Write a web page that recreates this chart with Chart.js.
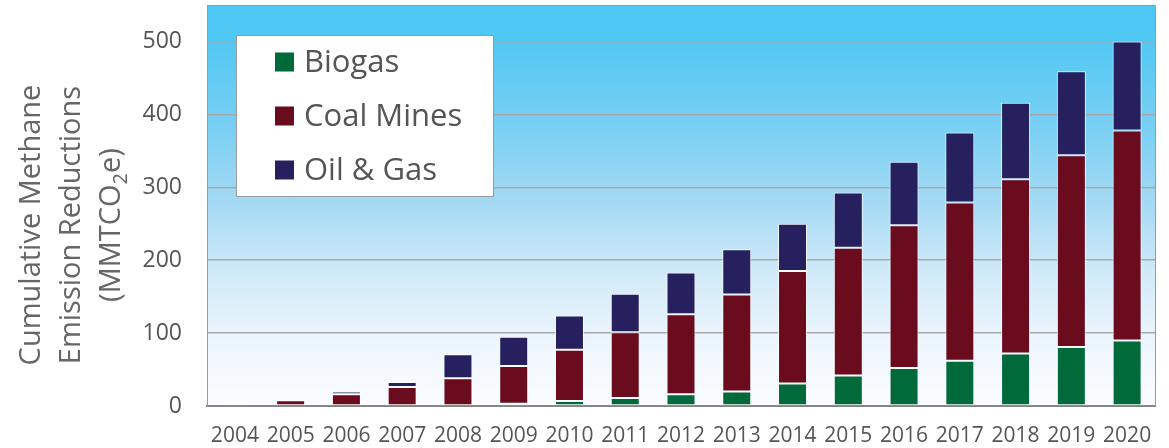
<!DOCTYPE html>
<html>
<head>
<meta charset="utf-8">
<script src="https://cdn.jsdelivr.net/npm/chart.js@4/dist/chart.umd.min.js"></script>
<style>
html,body{margin:0;padding:0;background:#fff;}
#c{display:block;}
</style>
</head>
<body>
<canvas id="c" width="1169" height="448"></canvas>
<script>
const years = ["2004","2005","2006","2007","2008","2009","2010","2011","2012","2013","2014","2015","2016","2017","2018","2019","2020"];
const biogas   = [0, 0, 0, 0, 0, 3, 7, 11, 16, 20, 31, 42, 52, 62, 72, 81, 90];
const coalMines= [0.6, 8, 16, 26, 38, 52, 70, 90, 110, 133, 154, 175, 196, 217, 239, 263, 288];
const oilGas   = [0, 0, 4, 7, 33, 40, 47, 53, 57, 62, 65, 76, 87, 96, 105, 115, 122];
const yTicks = [0, 100, 200, 300, 400, 500];
const yTitle = ["Cumulative Methane", "Emission Reductions", "(MMTCO", "2", "e)"];

const FONT = "'Open Sans', 'Noto Sans', sans-serif";

const bgPlugin = {
  id: 'bg',
  beforeDraw(chart) {
    const {ctx, chartArea: a} = chart;
    const g = ctx.createLinearGradient(0, a.top, 0, a.bottom);
    g.addColorStop(0, '#4ec8f4');
    g.addColorStop(0.08, '#50c8f4');
    g.addColorStop(0.3, '#78cff3');
    g.addColorStop(0.5, '#a7daf4');
    g.addColorStop(0.68, '#d3ebf9');
    g.addColorStop(0.85, '#eef6fd');
    g.addColorStop(1, '#fbfdff');
    ctx.save();
    ctx.fillStyle = g;
    ctx.fillRect(a.left, a.top, a.right - a.left, a.bottom - a.top);
    ctx.restore();
  },
  afterDraw(chart) {
    const {ctx, chartArea: a} = chart;
    ctx.save();
    ctx.strokeStyle = '#9a9a9a';
    ctx.lineWidth = 1;
    ctx.beginPath();
    ctx.moveTo(a.left, a.top + 0.5);
    ctx.lineTo(a.right + 0.5, a.top + 0.5);
    ctx.lineTo(a.right + 0.5, a.bottom);
    ctx.stroke();
    ctx.restore();
  }
};

const legendPlugin = {
  id: 'boxLegend',
  afterDatasetsDraw(chart) {
    const ctx = chart.ctx;
    ctx.save();
    ctx.fillStyle = '#ffffff';
    ctx.fillRect(236, 35, 257, 161);
    ctx.strokeStyle = '#9a9a9a';
    ctx.lineWidth = 1;
    ctx.strokeRect(236.5, 35.5, 257, 161);
    const centers = [62, 116, 170];
    ctx.font = '31px ' + FONT;
    ctx.textBaseline = 'middle';
    ctx.textAlign = 'left';
    chart.data.datasets.forEach((ds, i) => {
      ctx.fillStyle = ds.backgroundColor;
      ctx.fillRect(275, centers[i] - 9.5, 19, 19);
      ctx.fillStyle = '#555555';
      ctx.fillText(ds.label, 304, centers[i] + 1);
    });
    ctx.restore();
  }
};

const titlePlugin = {
  id: 'yTitle',
  afterDraw(chart) {
    const ctx = chart.ctx;
    const cy = 225;
    ctx.save();
    ctx.fillStyle = '#666666';
    ctx.textBaseline = 'middle';
    ctx.font = '29px ' + FONT;
    const lines = [[yTitle[0], 32], [yTitle[1], 72]];
    lines.forEach(([t, x]) => {
      ctx.save();
      ctx.translate(x, cy);
      ctx.rotate(-Math.PI / 2);
      ctx.textAlign = 'center';
      ctx.fillText(t, 0, 0);
      ctx.restore();
    });
    const big = '29px ' + FONT, small = '20px ' + FONT;
    ctx.font = big;
    const w1 = ctx.measureText(yTitle[2]).width;
    const w3 = ctx.measureText(yTitle[4]).width;
    ctx.font = small;
    const w2 = ctx.measureText(yTitle[3]).width;
    const total = w1 + w2 + w3;
    ctx.translate(112, cy);
    ctx.rotate(-Math.PI / 2);
    ctx.textAlign = 'left';
    let x0 = -total / 2;
    ctx.font = big;
    ctx.fillText(yTitle[2], x0, 0);
    ctx.font = small;
    ctx.fillText(yTitle[3], x0 + w1, 9);
    ctx.font = big;
    ctx.fillText(yTitle[4], x0 + w1 + w2, 0);
    ctx.restore();
  }
};

const barStyle = {borderColor: 'rgba(255,255,255,0.85)', borderWidth: 1, borderSkipped: false, barPercentage: 0.52, categoryPercentage: 1.0};

new Chart(document.getElementById('c'), {
  type: 'bar',
  data: {
    labels: years,
    datasets: [
      Object.assign({label: 'Biogas', data: biogas, backgroundColor: '#006a3a'}, barStyle),
      Object.assign({label: 'Coal Mines', data: coalMines, backgroundColor: '#6b0c1e'}, barStyle),
      Object.assign({label: 'Oil & Gas', data: oilGas, backgroundColor: '#26205f'}, barStyle)
    ]
  },
  options: {
    responsive: false,
    animation: false,
    devicePixelRatio: 1,
    layout: {autoPadding: false, padding: {left: 0, top: 5, right: 14, bottom: 0}},
    plugins: {legend: {display: false}, tooltip: {enabled: false}, title: {display: false}},
    scales: {
      x: {
        stacked: true,
        grid: {display: false, drawTicks: false},
        border: {display: true, color: '#858585', width: 2},
        ticks: {color: '#555555', font: {family: FONT, size: 21}, padding: 17, maxRotation: 0, autoSkip: false},
        afterFit(s) { s.height = 42; s.paddingLeft = 0; s.paddingRight = 0; }
      },
      y: {
        stacked: true,
        min: 0, max: 550,
        afterBuildTicks(s) { s.ticks = yTicks.map(v => ({value: v})); },
        grid: {color: '#a8a8a8', lineWidth: 1.5, drawTicks: false},
        border: {display: true, color: '#9a9a9a', width: 1},
        ticks: {color: '#555555', font: {family: FONT, size: 23}, padding: 25},
        afterFit(s) { s.width = 207; s.paddingTop = 0; s.paddingBottom = 0; }
      }
    }
  },
  plugins: [bgPlugin, legendPlugin, titlePlugin]
});
</script>
</body>
</html>
